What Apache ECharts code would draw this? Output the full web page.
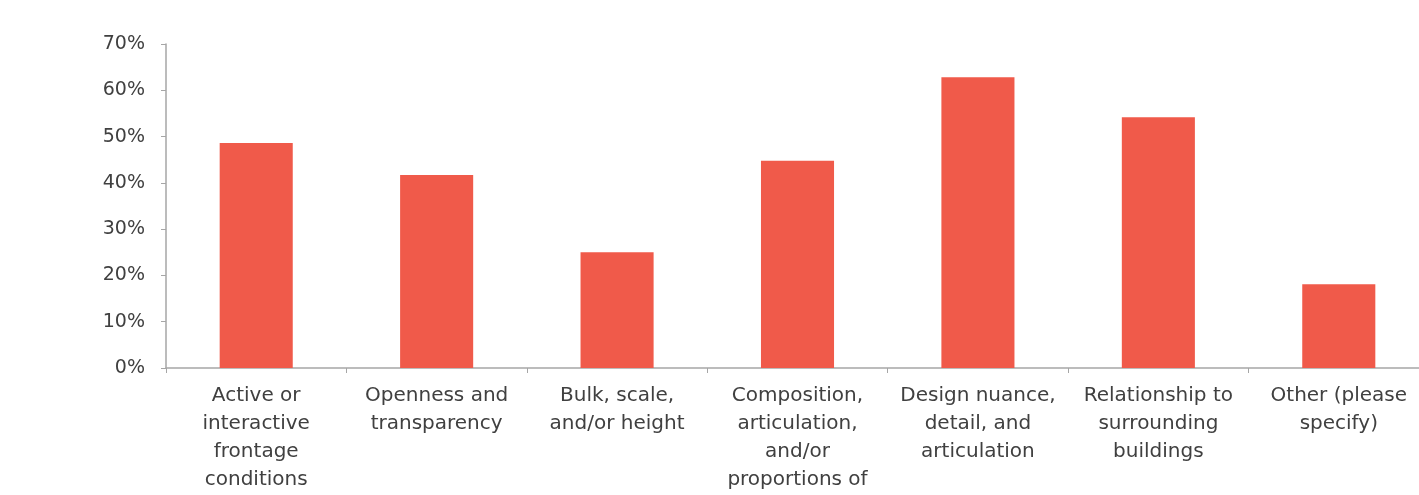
<!DOCTYPE html>
<html lang="en">
<head>
    <meta charset="UTF-8">
    <title>Chart</title>
    <script src="https://cdn.jsdelivr.net/npm/echarts@6/dist/echarts.min.js"></script>
</head>
<body style="margin:0;background:#fff;">
<div id="main" style="width:1419px;height:495px;"></div>
<script>
    var categories = [
        'Active or\ninteractive\nfrontage\nconditions',
        'Openness and\ntransparency',
        'Bulk, scale,\nand/or height',
        'Composition,\narticulation,\nand/or\nproportions of',
        'Design nuance,\ndetail, and\narticulation',
        'Relationship to\nsurrounding\nbuildings',
        'Other (please\nspecify)'
    ];
    var shares = [48.6, 41.7, 25.0, 44.8, 62.8, 54.2, 18.1];
    var yTicks = [0, 10, 20, 30, 40, 50, 60, 70];

    var chart = echarts.init(document.getElementById('main'));
    var option = {
        animation: false,
        grid: {
            left: 166,
            width: 1263,
            top: 44,
            height: 324,
            containLabel: false,
            outerBoundsMode: 'none'
        },
        xAxis: {
            type: 'category',
            data: categories,
            axisLine: {lineStyle: {color: '#a6a6a6', width: 1.5}},
            axisTick: {show: true, length: 5, lineStyle: {color: '#a6a6a6'}},
            axisLabel: {
                color: '#404040',
                fontFamily: 'DejaVu Sans',
                fontSize: 20,
                lineHeight: 28,
                margin: 14,
                interval: 0
            }
        },
        yAxis: {
            type: 'value',
            min: yTicks[0],
            max: yTicks[yTicks.length - 1],
            interval: 10,
            splitLine: {show: false},
            axisLine: {show: true, lineStyle: {color: '#a6a6a6', width: 1.5}},
            axisTick: {show: true, length: 5, lineStyle: {color: '#a6a6a6'}},
            axisLabel: {
                color: '#404040',
                fontFamily: 'DejaVu Sans',
                fontSize: 19,
                margin: 21,
                formatter: '{value}%'
            }
        },
        series: [{
            type: 'bar',
            data: shares,
            barWidth: '40.5%',
            itemStyle: {color: '#f05a4a'}
        }]
    };
    chart.setOption(option);
</script>
</body>
</html>
